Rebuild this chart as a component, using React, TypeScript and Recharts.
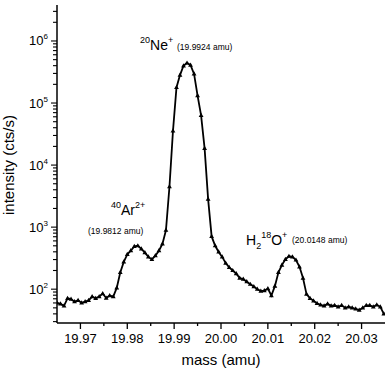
import { LineChart, Line, XAxis, YAxis } from "recharts";

// scan across the m/z = 20 multiplet
const MASS = [
  19.965, 19.96575, 19.9665, 19.96725, 19.968, 19.96875, 19.9695, 19.97025, 19.971, 19.97175,
  19.9725, 19.97325, 19.974, 19.97475, 19.9755, 19.97625, 19.977, 19.97775, 19.9785, 19.97925,
  19.98, 19.98075, 19.9815, 19.98225, 19.983, 19.98375, 19.9845, 19.98525, 19.986, 19.98675,
  19.9875, 19.98825, 19.989, 19.98975, 19.9905, 19.99125, 19.992, 19.99275, 19.9935, 19.99425,
  19.995, 19.99575, 19.9965, 19.99725, 19.998, 19.99875, 19.9995, 20.00025, 20.001, 20.00175,
  20.0025, 20.00325, 20.004, 20.00475, 20.0055, 20.00625, 20.007, 20.00775, 20.0085, 20.00925,
  20.01, 20.01075, 20.0115, 20.01225, 20.013, 20.01375, 20.0145, 20.01525, 20.016, 20.01675,
  20.0175, 20.01825, 20.019, 20.01975, 20.0205, 20.02125, 20.022, 20.02275, 20.0235, 20.02425,
  20.025, 20.02575, 20.0265, 20.02725, 20.028, 20.02875, 20.0295, 20.03025, 20.031, 20.03175,
  20.0325, 20.03325, 20.034, 20.03475,
];

const INTENSITY = [
  60, 58, 54, 71, 69, 63, 66, 60, 63, 66,
  76, 71, 76, 85, 72, 79, 76, 105, 186, 275,
  363, 417, 490, 501, 447, 389, 331, 302, 347, 417,
  537, 891, 4470, 35500, 178000, 282000, 398000, 442000, 407000, 295000,
  132000, 63100, 18600, 2820, 708, 501, 398, 331, 263, 224,
  200, 178, 151, 145, 132, 120, 110, 100, 93, 95,
  102, 79, 112, 186, 245, 302, 339, 331, 295, 229,
  151, 83, 71, 65, 59, 56, 54, 58, 54, 55,
  52, 55, 50, 52, 50, 48, 46, 50, 55, 55,
  52, 56, 52, 40,
];

const X_MAJOR = [19.97, 19.98, 19.99, 20.0, 20.01, 20.02, 20.03];
const X_MINOR = [19.975, 19.985, 19.995, 20.005, 20.015, 20.025];
const Y_MAJOR = [100, 1000, 10000, 100000, 1000000];
const Y_MINOR_STEPS = [2, 3, 4, 5, 6, 7, 8, 9];
const Y_DECADES = [10, 100, 1000, 10000, 100000, 1000000];

const X_DOMAIN: [number, number] = [19.965, 20.035];
const Y_DOMAIN: [number, number] = [28.5, 3.8e6];

const FONT = "'Liberation Sans', Arial, Helvetica, sans-serif";

const data = MASS.map((m, i) => ({ mass: m, intensity: INTENSITY[i] }));

const xTicks = [...X_MAJOR, ...X_MINOR].sort((a, b) => a - b);
const yTicks = [
  ...Y_MAJOR,
  ...Y_DECADES.flatMap((d) => Y_MINOR_STEPS.map((s) => s * d)),
]
  .filter((v) => v >= Y_DOMAIN[0] && v <= Y_DOMAIN[1])
  .sort((a, b) => a - b);

const isXMajor = (v: number) => X_MAJOR.some((m) => Math.abs(m - v) < 1e-9);
const isYMajor = (v: number) => Y_MAJOR.includes(v);

function BottomTick({ x, y, payload }: any) {
  const major = isXMajor(payload.value);
  return (
    <g>
      <line x1={x} x2={x} y1={y} y2={y + (major ? 6 : 3)} stroke="#000" strokeWidth={1.3} />
      {major && (
        <text x={x} y={y + 20} textAnchor="middle" fontSize={13} fill="#000">
          {payload.value.toFixed(2)}
        </text>
      )}
    </g>
  );
}

function TopTick({ x, y, payload }: any) {
  const major = isXMajor(payload.value);
  return <line x1={x} x2={x} y1={y} y2={y + (major ? 5 : 3)} stroke="#000" strokeWidth={1.3} />;
}

function LeftTick({ x, y, payload }: any) {
  const v = payload.value;
  const major = isYMajor(v);
  return (
    <g>
      <line x1={x - (major ? 6 : 4)} x2={x} y1={y} y2={y} stroke="#000" strokeWidth={1.1} />
      {major && (
        <text x={x - 9} y={y + 4.5} textAnchor="end" fontSize={13} fill="#000">
          10
          <tspan fontSize={8} dy={-6}>
            {Math.round(Math.log10(v))}
          </tspan>
        </text>
      )}
    </g>
  );
}

function RightTick({ x, y, payload }: any) {
  const major = isYMajor(payload.value);
  return <line x1={x - (major ? 6 : 4)} x2={x} y1={y} y2={y} stroke="#000" strokeWidth={1.1} />;
}

function Triangle({ cx, cy, index }: any) {
  if (cx == null || cy == null) return <g key={index} />;
  return (
    <path
      key={index}
      d={`M${cx},${cy - 2.6} L${cx + 2.4},${cy + 1.6} L${cx - 2.4},${cy + 1.6} Z`}
      fill="#000"
    />
  );
}

const axisLine = { stroke: "#000", strokeWidth: 1.5 };

export default function App() {
  return (
    <div style={{ position: "absolute", left: 0, top: 0, width: 391, height: 374, background: "#fff", fontFamily: FONT }}>
      <LineChart width={391} height={374} data={data} margin={{ top: 5, right: 6, bottom: 0, left: 0 }}>
        <XAxis
          xAxisId="b"
          dataKey="mass"
          type="number"
          domain={X_DOMAIN}
          allowDataOverflow
          ticks={xTicks}
          interval={0}
          height={51}
          tickSize={0}
          tickMargin={0}
          tickLine={false}
          axisLine={axisLine}
          tick={BottomTick}
        />
        <XAxis
          xAxisId="t"
          orientation="top"
          dataKey="mass"
          type="number"
          domain={X_DOMAIN}
          allowDataOverflow
          ticks={xTicks}
          interval={0}
          height={0}
          tickSize={0}
          tickMargin={0}
          tickLine={false}
          axisLine={axisLine}
          tick={TopTick}
        />
        <YAxis
          yAxisId="l"
          scale="log"
          type="number"
          domain={Y_DOMAIN}
          allowDataOverflow
          ticks={yTicks}
          interval={0}
          width={57}
          tickSize={0}
          tickMargin={0}
          tickLine={false}
          axisLine={axisLine}
          tick={LeftTick}
        />
        <YAxis
          yAxisId="r"
          orientation="right"
          scale="log"
          type="number"
          domain={Y_DOMAIN}
          allowDataOverflow
          ticks={yTicks}
          interval={0}
          width={0}
          tickSize={0}
          tickMargin={0}
          tickLine={false}
          axisLine={axisLine}
          tick={RightTick}
        />
        <Line
          xAxisId="b"
          yAxisId="l"
          dataKey="intensity"
          type="linear"
          stroke="#000"
          strokeWidth={1.8}
          dot={Triangle}
          activeDot={false}
          isAnimationActive={false}
        />

        {/* axis titles */}
        <text x={221} y={365} textAnchor="middle" fontSize={15} fill="#000">
          mass (amu)
        </text>
        <text transform="translate(14,165) rotate(-90)" textAnchor="middle" fontSize={15} fill="#000">
          intensity (cts/s)
        </text>

        {/* peak assignments */}
        <text x={140} y={50} fontSize={14} fill="#000">
          <tspan fontSize={9} dy={-7}>20</tspan>
          <tspan dy={7}>Ne</tspan>
          <tspan fontSize={9} dy={-7}>+</tspan>
        </text>
        <text x={177} y={50} fontSize={8.5} fill="#000">(19.9924 amu)</text>

        <text x={111} y={215} fontSize={14} fill="#000">
          <tspan fontSize={9} dy={-7}>40</tspan>
          <tspan dy={7}>Ar</tspan>
          <tspan fontSize={9} dy={-7}>2+</tspan>
        </text>
        <text x={88} y={234} fontSize={8.5} fill="#000">(19.9812 amu)</text>

        <text x={246} y={245} fontSize={14} fill="#000">
          H<tspan fontSize={9} dy={4}>2</tspan>
          <tspan fontSize={9} dy={-11}>18</tspan>
          <tspan dy={7}>O</tspan>
          <tspan fontSize={9} dy={-7}>+</tspan>
        </text>
        <text x={292} y={243} fontSize={8.5} fill="#000">(20.0148 amu)</text>
      </LineChart>
    </div>
  );
}
